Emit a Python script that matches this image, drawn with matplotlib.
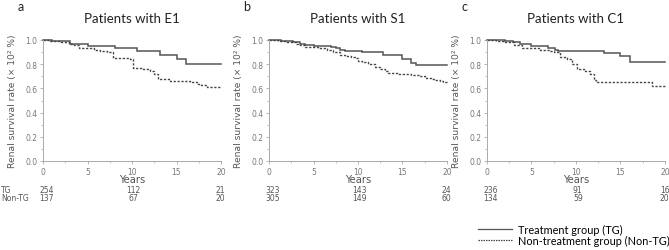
import matplotlib
matplotlib.use("Agg")
import matplotlib.pyplot as plt
from matplotlib.lines import Line2D
from matplotlib.ticker import MultipleLocator, FormatStrFormatter
import matplotlib.transforms as mtransforms

# ---- data ----
panel_letters = ["a", "b", "c"]
panel_titles = ["Patients with E1", "Patients with S1", "Patients with C1"]

a_tg_t = [0, 1.0, 2.1, 3.0, 5.1, 8.1, 10.6, 13.1, 15.0, 16.1, 20]
a_tg_s = [1.0, 0.995, 0.99, 0.97, 0.95, 0.93, 0.91, 0.88, 0.84, 0.80, 0.80]
a_ntg_t = [0, 0.8, 2.0, 2.9, 3.5, 4.1, 5.7, 6.4, 7.2, 7.9, 9.8, 10.1, 11.2, 12.0, 12.5,
           12.9, 14.3, 16.5, 17.3, 17.8, 18.4, 20]
a_ntg_s = [1.0, 0.99, 0.98, 0.97, 0.96, 0.93, 0.92, 0.91, 0.90, 0.85, 0.84, 0.77, 0.76,
           0.74, 0.72, 0.68, 0.66, 0.65, 0.64, 0.63, 0.61, 0.61]

b_tg_t = [0, 1.4, 2.7, 3.5, 4.0, 5.1, 7.0, 7.5, 8.0, 8.5, 10.4, 12.8, 14.9, 16.0, 16.5, 20]
b_tg_s = [1.0, 0.99, 0.98, 0.97, 0.96, 0.95, 0.94, 0.93, 0.92, 0.91, 0.90, 0.88, 0.84,
          0.81, 0.79, 0.79]
b_ntg_t = [0, 1.0, 2.0, 3.0, 3.5, 4.0, 5.5, 6.5, 7.2, 8.0, 8.5, 9.2, 9.8, 10.0, 10.5, 11.1,
           11.9, 12.5, 13.0, 13.4, 14.5, 16.0, 16.8, 17.5, 18.2, 18.6, 19.2, 19.6, 20]
b_ntg_s = [1.0, 0.99, 0.98, 0.97, 0.96, 0.94, 0.93, 0.92, 0.90, 0.88, 0.87, 0.86, 0.85,
           0.83, 0.82, 0.80, 0.78, 0.76, 0.74, 0.73, 0.72, 0.71, 0.70, 0.69, 0.68, 0.67,
           0.66, 0.65, 0.65]

c_tg_t = [0, 2.0, 2.9, 3.7, 5.0, 6.9, 7.6, 8.0, 13.1, 15.0, 16.1, 20]
c_tg_s = [1.0, 0.99, 0.98, 0.97, 0.95, 0.93, 0.92, 0.91, 0.89, 0.87, 0.82, 0.82]
c_ntg_t = [0, 1.0, 2.0, 3.0, 3.9, 6.0, 7.0, 7.5, 8.2, 9.0, 9.5, 10.1, 11.0, 11.6, 12.0,
           12.3, 18.5, 20]
c_ntg_s = [1.0, 0.99, 0.98, 0.96, 0.93, 0.92, 0.91, 0.90, 0.86, 0.84, 0.80, 0.76, 0.74,
           0.72, 0.67, 0.65, 0.62, 0.62]

risk_times = [0, 10, 20]
a_risk_tg = [254, 112, 21]
a_risk_ntg = [137, 67, 20]
b_risk_tg = [323, 143, 24]
b_risk_ntg = [305, 149, 60]
c_risk_tg = [236, 91, 16]
c_risk_ntg = [134, 59, 20]

row_labels = ["TG", "Non-TG"]
legend_labels = ["Treatment group (TG)", "Non-treatment group (Non-TG)"]

panels = [
    (a_tg_t, a_tg_s, a_ntg_t, a_ntg_s, a_risk_tg, a_risk_ntg),
    (b_tg_t, b_tg_s, b_ntg_t, b_ntg_s, b_risk_tg, b_risk_ntg),
    (c_tg_t, c_tg_s, c_ntg_t, c_ntg_s, c_risk_tg, c_risk_ntg),
]

# ---- layout ----
W, H = 669, 251
fig = plt.figure(figsize=(W / 100, H / 100), dpi=100)
lefts_px = [43, 269, 487]
ax_w_px = 178
bottom_px = 162
top_px = 41
ax_h_px = bottom_px - top_px
risk_offsets = [0.4, 0.2, -0.05]

title_font = "Lato"
tick_color = "#777777"
spine_color = "#aaaaaa"
line_color = "#555555"
text_color = "#555555"

for i, (left, data) in enumerate(zip(lefts_px, panels)):
    tg_t, tg_s, ntg_t, ntg_s, r_tg, r_ntg = data
    ax = fig.add_axes([left / W, 1 - bottom_px / H, ax_w_px / W, ax_h_px / H])
    ax.plot(tg_t, tg_s, drawstyle="steps-post", color=line_color, lw=1.1,
            solid_joinstyle="miter", clip_on=False)
    ax.plot(ntg_t, ntg_s, drawstyle="steps-post", color="#444444", lw=1.0,
            linestyle=(0, (1.6, 1.2)), clip_on=False)
    ax.set_xlim(0, 20)
    ax.set_ylim(0, 1.0)
    ax.xaxis.set_major_locator(MultipleLocator(5))
    ax.xaxis.set_minor_locator(MultipleLocator(2.5))
    ax.yaxis.set_major_locator(MultipleLocator(0.2))
    ax.yaxis.set_minor_locator(MultipleLocator(0.1))
    ax.yaxis.set_major_formatter(FormatStrFormatter("%.1f"))
    for s in ["top", "right"]:
        ax.spines[s].set_visible(False)
    for s in ["left", "bottom"]:
        ax.spines[s].set_color(spine_color)
        ax.spines[s].set_linewidth(0.7)
    ax.tick_params(which="major", length=2.5, width=0.6, color=spine_color,
                   labelsize=5.5, labelcolor=tick_color, pad=1.5)
    ax.tick_params(which="minor", length=1.5, width=0.5, color=spine_color)
    ax.set_xlabel("Years", fontsize=7.2, color=text_color, family="DejaVu Sans")
    ax.xaxis.set_label_coords(0.5, -(175.5 - bottom_px) / ax_h_px)
    ax.set_ylabel("Renal survival rate (× 10² %)", fontsize=6.6, color=text_color,
                  family="DejaVu Sans")
    ax.yaxis.set_label_coords(-26 / ax_w_px, 0.5)
    ax.set_title(panel_titles[i], fontsize=9.5, family=title_font, color="#222222", pad=13)
    ax.text(-0.125, 1.28, panel_letters[i], transform=ax.transAxes, fontsize=9,
            family=title_font, color="#222222", ha="center", va="center")

    trans = mtransforms.blended_transform_factory(ax.transData, fig.transFigure)
    for t, off, n1, n2 in zip(risk_times, risk_offsets, r_tg, r_ntg):
        ax.text(t + off, 1 - 190.5 / H, str(n1), transform=trans, fontsize=5.5,
                color=text_color, ha="center", va="center", family="DejaVu Sans")
        ax.text(t + off, 1 - 198.5 / H, str(n2), transform=trans, fontsize=5.5,
                color=text_color, ha="center", va="center", family="DejaVu Sans")

fig.text(1 / W, 1 - 190.5 / H, row_labels[0], fontsize=5.5, color=text_color,
         ha="left", va="center", family="DejaVu Sans")
fig.text(1 / W, 1 - 198.5 / H, row_labels[1], fontsize=5.5, color=text_color,
         ha="left", va="center", family="DejaVu Sans")

handles = [Line2D([], [], color=line_color, lw=0.9),
           Line2D([], [], color="#444444", lw=0.9, linestyle=(0, (1.2, 0.8)))]
fig.legend(handles, legend_labels, loc="upper left",
           bbox_to_anchor=(478 / W, 1 - 225 / H), frameon=False,
           handlelength=3.1, handletextpad=0.6, labelspacing=0.0,
           borderpad=0, borderaxespad=0, prop={"family": title_font, "size": 7.8})

fig.savefig("out.png", dpi=100)
